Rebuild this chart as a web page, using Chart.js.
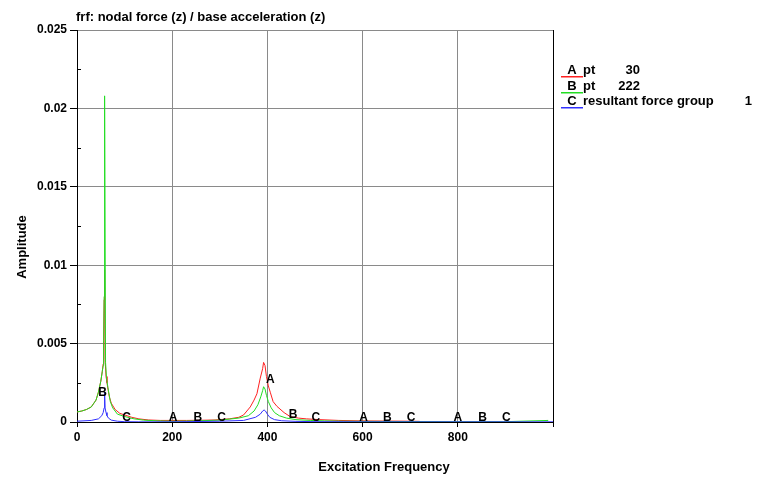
<!DOCTYPE html>
<html>
<head>
<meta charset="utf-8">
<script src="https://cdn.jsdelivr.net/npm/chart.js@4.4.1/dist/chart.umd.min.js"></script>
<style>
  html, body { margin: 0; padding: 0; background: #fff; }
  #wrap { width: 768px; height: 491px; position: relative; }
</style>
</head>
<body>
<div id="wrap"><canvas id="frf"></canvas></div>
<script>
// series A : pt 30 (red)
var freqA = [0, 10, 20, 30, 40, 45, 50, 53, 55, 56, 57, 58, 59, 61, 63, 65, 68, 72, 80, 90, 100, 115, 130, 150, 175, 200, 230, 260, 290, 320, 340, 350, 364, 372, 378, 385, 390, 392, 395, 398, 402, 406, 412, 420, 435, 448, 465, 482, 510, 550, 600, 650, 700, 720];
var ampA  = [0.00064, 0.0007, 0.0008, 0.00096, 0.0014, 0.0019, 0.0026, 0.0032, 0.0037, 0.0052, 0.0078, 0.0097, 0.0040, 0.0029, 0.0025, 0.0021, 0.0016, 0.0012, 0.0008, 0.00055, 0.00045, 0.0003, 0.0002, 0.00013, 0.0001, 0.0001, 0.0001, 0.00011, 0.00013, 0.0002, 0.0003, 0.00045, 0.00096, 0.0014, 0.0018, 0.0028, 0.0034, 0.0038, 0.0036, 0.0029, 0.0023, 0.0019, 0.0013, 0.001, 0.0006, 0.00034, 0.00025, 0.0002, 0.00015, 0.0001, 0.00007, 0.00006, 0.00005, 0.00004];

// series B : pt 222 (green)
var freqB = [0, 10, 20, 30, 40, 45, 50, 53, 55, 56, 57, 58, 60, 62, 65, 70, 75, 85, 100, 120, 140, 170, 200, 230, 260, 300, 340, 360, 372, 380, 386, 390, 392, 395, 398, 402, 408, 415, 425, 440, 460, 490, 520, 560, 600, 700, 800, 900, 990];
var ampB  = [0.00064, 0.0007, 0.0008, 0.00096, 0.0014, 0.0019, 0.0026, 0.0032, 0.0036, 0.005, 0.008, 0.0208, 0.0038, 0.0028, 0.0022, 0.0013, 0.0009, 0.0005, 0.00035, 0.0002, 0.00012, 0.00007, 0.00005, 0.00006, 0.00008, 0.00012, 0.00025, 0.0004, 0.0007, 0.0011, 0.0016, 0.002, 0.00225, 0.0021, 0.0017, 0.0013, 0.0009, 0.0006, 0.0004, 0.00025, 0.00015, 0.0001, 0.00007, 0.00005, 0.00004, 0.00003, 0.00002, 0.00002, 0.0001];

// series C : resultant force group 1 (blue)
var freqC = [0, 30, 45, 52, 55, 57, 58, 59, 61, 63, 66, 72, 85, 100, 130, 200, 300, 350, 375, 385, 390, 393, 396, 400, 405, 415, 430, 460, 500, 600, 800, 1000];
var ampC  = [0.00005, 0.0001, 0.0002, 0.0004, 0.0006, 0.0009, 0.0019, 0.0009, 0.0006, 0.0004, 0.00025, 0.00012, 0.00005, 0.00002, 0.00001, 0.00001, 0.00005, 0.0001, 0.0003, 0.0005, 0.0007, 0.00077, 0.0007, 0.0005, 0.0003, 0.00015, 0.00008, 0.00004, 0.00002, 0.00001, 0.00001, 0.00001];

// curve letters written along the lines
var markLetters = ['B', 'C', 'A', 'B', 'C', 'A', 'B', 'C', 'A', 'B', 'C', 'A', 'B', 'C'];
var markFreqs   = [54, 104, 202, 254, 304, 406, 454, 502, 602, 652, 702, 800, 852, 902];
var markAmps    = [0.0019, 0.0003, 0.0003, 0.0003, 0.0003, 0.0027, 0.00045, 0.0003, 0.0003, 0.0003, 0.0003, 0.0003, 0.0003, 0.0003];

var xTicks = [0, 200, 400, 600, 800];
var yTicks = [0, 0.005, 0.01, 0.015, 0.02, 0.025];

var legendKeys  = ['A', 'B', 'C'];
var legendNames = ['pt', 'pt', 'resultant force group'];
var legendIds   = ['30', '222', '1'];
var colors      = ['#ff2020', '#22dd22', '#3030ff'];

function pts(fs, as) {
    var out = [];
    for (let i = 0; i < fs.length; i++) out.push({x: fs[i], y: as[i]});
    return out;
}

var FONT = '"Liberation Sans", Arial, sans-serif';

function isMajorY(v) { return Math.round(v / 0.0025) % 2 === 0; }

var decor = {
    id: 'decor',
    afterDatasetsDraw: function(chart) {
        var c = chart.ctx, xs = chart.scales.x, ys = chart.scales.y, a = chart.chartArea;
        c.save();
        // small inner ticks between the labelled ones
        c.strokeStyle = '#000';
        c.lineWidth = 1;
        ys.ticks.forEach(function(t) {
            if (isMajorY(t.value)) return;
            var py = Math.round(ys.getPixelForValue(t.value)) + 0.5;
            c.beginPath();
            c.moveTo(a.left, py);
            c.lineTo(a.left + 4, py);
            c.stroke();
        });
        c.fillStyle = '#000';
        c.font = 'bold 12px ' + FONT;
        c.textAlign = 'center';
        c.textBaseline = 'middle';
        for (let i = 0; i < markLetters.length; i++) {
            c.fillText(markLetters[i], xs.getPixelForValue(markFreqs[i]), ys.getPixelForValue(markAmps[i]));
        }
        c.restore();
    },
    afterDraw: function(chart) {
        var c = chart.ctx, a = chart.chartArea;
        c.save();
        c.fillStyle = '#000';
        // title
        c.font = 'bold 13px ' + FONT;
        c.textAlign = 'left';
        c.textBaseline = 'middle';
        c.fillText('frf: nodal force (z) / base acceleration (z)', a.left - 1, 17);
        // axis titles
        c.textAlign = 'center';
        c.fillText('Excitation Frequency', 384, 467);
        c.translate(22, 247);
        c.rotate(-Math.PI / 2);
        c.fillText('Amplitude', 0, 0);
        c.setTransform(1, 0, 0, 1, 0, 0);
        // legend
        var ly = [70, 86, 101];
        for (let i = 0; i < legendKeys.length; i++) {
            c.fillStyle = '#000';
            c.textAlign = 'center';
            c.fillText(legendKeys[i], 572, ly[i]);
            c.textAlign = 'left';
            c.fillText(legendNames[i], 583, ly[i]);
            c.textAlign = 'right';
            c.fillText(legendIds[i], i === 2 ? 752 : 640, ly[i]);
            c.fillStyle = colors[i];
            c.fillRect(561, ly[i] + 6, 22, 1.5);
        }
        c.restore();
    }
};

var datasets = [
    {label: 'A', data: pts(freqA, ampA), borderColor: colors[0], order: 3},
    {label: 'B', data: pts(freqB, ampB), borderColor: colors[1], order: 2},
    {label: 'C', data: pts(freqC, ampC), borderColor: colors[2], order: 1}
];
datasets.forEach(function(d) {
    d.borderWidth = 1; d.pointRadius = 0; d.fill = false; d.tension = 0;
});

new Chart(document.getElementById('frf'), {
    type: 'line',
    data: {datasets: datasets},
    plugins: [decor],
    options: {
        responsive: true,
        maintainAspectRatio: false,
        animation: false,
        layout: {padding: {top: 30, right: 215, left: 0, bottom: 0}},
        plugins: {legend: {display: false}, tooltip: {enabled: false}},
        scales: {
            x: {
                type: 'linear', min: 0, max: 1000,
                afterFit: function(s) { s.height = 69; },
                afterBuildTicks: function(s) {
                    s.ticks = xTicks.concat([1000]).map(function(v) { return {value: v}; });
                },
                border: {color: '#000', width: 1},
                grid: {
                    color: function(ctx) { return ctx.tick && ctx.tick.value === 1000 ? '#000' : '#8a8a8a'; },
                    tickColor: '#000', tickLength: 5
                },
                ticks: {
                    color: '#000', font: {family: FONT, size: 12, weight: 'bold'}, padding: 3, maxRotation: 0,
                    callback: function(v) { return xTicks.indexOf(v) >= 0 ? String(v) : ''; }
                }
            },
            y: {
                type: 'linear', min: 0, max: 0.025,
                afterFit: function(s) { s.width = 77; },
                afterBuildTicks: function(s) {
                    var t = [];
                    for (let i = 0; i <= 10; i++) t.push({value: i * 0.0025});
                    s.ticks = t;
                },
                border: {color: '#000', width: 1},
                grid: {
                    color: function(ctx) { return ctx.tick && isMajorY(ctx.tick.value) ? '#8a8a8a' : 'rgba(0,0,0,0)'; },
                    tickColor: function(ctx) { return ctx.tick && isMajorY(ctx.tick.value) ? '#000' : 'rgba(0,0,0,0)'; },
                    tickLength: 7
                },
                ticks: {
                    color: '#000', font: {family: FONT, size: 12, weight: 'bold'}, padding: 3,
                    callback: function(v) {
                        if (!isMajorY(v)) return '';
                        var s = String(+v.toFixed(4));
                        return yTicks.indexOf(+s) >= 0 ? s : '';
                    }
                }
            }
        }
    }
});
</script>
</body>
</html>
